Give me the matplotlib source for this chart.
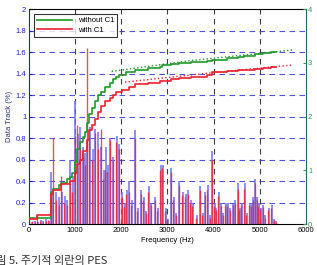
import matplotlib
matplotlib.use('Agg')
import matplotlib.pyplot as plt

plt.rcParams['font.family'] = ['Liberation Sans', 'DejaVu Sans']

# PES spectrum bars (Hz, left-axis units)
freq = [60, 120, 180, 240, 300, 360, 420, 470, 520, 580, 640, 700, 760, 820, 880, 940,
        990, 1050, 1100, 1160, 1210, 1255, 1310, 1370, 1430, 1490, 1560, 1610, 1650, 1700,
        1750, 1820, 1890, 1950, 2010, 2060, 2110, 2160, 2220, 2290, 2350, 2420, 2475, 2530,
        2580, 2640, 2730, 2780, 2840, 2890, 2950, 3000, 3070, 3130, 3180, 3245, 3325, 3385,
        3435, 3490, 3540, 3625, 3700, 3750, 3810, 3860, 3920, 3965, 4010, 4050, 4100, 4150,
        4200, 4250, 4300, 4350, 4410, 4460, 4520, 4560, 4600, 4660, 4710, 4770, 4820, 4850,
        4890, 4930, 4970, 5010, 5060, 5110, 5180, 5250, 5300, 5350]
pes_without = [0.02, 0.03, 0.02, 0.04, 0.03, 0.05, 0.03, 0.48, 0.28, 0.30, 0.25, 0.30, 0.26, 0.22, 0.60, 0.45,
               1.14, 0.84, 0.90, 0.72, 0.66, 0.78, 0.90, 0.70, 0.88, 0.86, 0.72, 0.50, 0.72, 0.55,
               0.80, 0.62, 0.82, 0.74, 0.30, 0.20, 0.32, 0.40, 0.22, 0.87, 0.15, 0.32, 0.25, 0.12,
               0.35, 0.20, 0.25, 0.15, 0.55, 0.55, 0.15, 0.05, 0.52, 0.25, 0.10, 0.40, 0.30, 0.28,
               0.32, 0.22, 0.20, 0.08, 0.35, 0.10, 0.30, 0.36, 0.08, 0.68, 0.20, 0.15, 0.30, 0.20,
               0.10, 0.20, 0.20, 0.15, 0.20, 0.22, 0.38, 0.15, 0.20, 0.38, 0.10, 0.20, 0.20, 0.25,
               0.42, 0.25, 0.20, 0.15, 0.18, 0.08, 0.15, 0.18, 0.05, 0.03]
pes_with = [0.03, 0.02, 0.08, 0.03, 0.02, 0.03, 0.04, 0.28, 0.80, 0.22, 0.18, 0.45, 0.20, 0.18, 0.38, 0.30,
            0.82, 0.92, 0.72, 0.62, 0.55, 1.64, 0.80, 0.60, 0.85, 0.70, 0.88, 0.42, 0.50, 0.48,
            0.78, 0.60, 0.76, 0.70, 0.25, 0.16, 0.28, 0.30, 0.18, 0.80, 0.12, 0.28, 0.22, 0.10,
            0.30, 0.18, 0.22, 0.12, 0.50, 0.52, 0.12, 0.04, 0.48, 0.22, 0.08, 0.36, 0.27, 0.25,
            0.28, 0.20, 0.17, 0.06, 0.32, 0.08, 0.27, 0.32, 0.06, 0.60, 0.17, 0.13, 0.26, 0.17,
            0.08, 0.18, 0.17, 0.13, 0.18, 0.20, 0.33, 0.13, 0.18, 0.33, 0.08, 0.18, 0.17, 0.22,
            0.38, 0.22, 0.17, 0.13, 0.16, 0.06, 0.13, 0.15, 0.04, 0.02]

# cumulative curves (step)
cum_f_without = [0, 470, 520, 640, 700, 820, 880, 940, 990, 1050, 1100, 1160, 1210, 1255, 1310,
                 1370, 1430, 1490, 1560, 1650, 1750, 1820, 1890, 1950, 2110, 2290, 2580, 2840,
                 2890, 3070, 3245, 3500, 3860, 3965, 4300, 4520, 4660, 4890, 5060, 5250, 5350]
cum_without = [0.06, 0.30, 0.33, 0.36, 0.38, 0.42, 0.44, 0.47, 0.58, 0.70, 0.76, 0.81, 0.86, 0.94, 1.02,
               1.08, 1.14, 1.20, 1.23, 1.27, 1.31, 1.35, 1.37, 1.39, 1.41, 1.43, 1.45, 1.46,
               1.48, 1.49, 1.50, 1.51, 1.52, 1.53, 1.54, 1.55, 1.56, 1.58, 1.59, 1.60, 1.60]
cum_f_with = [0, 180, 470, 520, 700, 880, 990, 1050, 1100, 1160, 1255, 1310, 1370, 1430, 1490,
              1560, 1650, 1750, 1820, 1890, 2010, 2160, 2290, 2580, 2840, 3070, 3245, 3500,
              3860, 3965, 4300, 4520, 4890, 5060, 5250, 5350]
cum_with = [0.05, 0.08, 0.28, 0.32, 0.37, 0.40, 0.47, 0.56, 0.60, 0.68, 0.78, 0.87, 0.92, 0.98, 1.04,
            1.10, 1.14, 1.17, 1.20, 1.23, 1.25, 1.27, 1.30, 1.31, 1.33, 1.35, 1.36, 1.37,
            1.39, 1.41, 1.42, 1.43, 1.44, 1.45, 1.46, 1.46]

# dotted trend lines
trend_f_without = [1790, 3500, 5730]
trend_without = [1.42, 1.52, 1.62]
trend_f_with = [2080, 3800, 5730]
trend_with = [1.32, 1.40, 1.48]

BLUE = '#2020c8'
GREEN = '#1f9a2a'
RED = '#ee2030'

fig = plt.figure(figsize=(3.17, 2.65), dpi=100)
ax = fig.add_axes([0.0915, 0.1547, 0.8735, 0.8113])

# grid
for y in [0.2, 0.4, 0.6, 0.8, 1.0, 1.2, 1.4, 1.6, 1.8]:
    ax.axhline(y, color='#5050e0', lw=0.8, ls=(0, (5, 4)), zorder=1)
for x in [1000, 2000, 3000, 4000, 5000]:
    ax.axvline(x, color='#404040', lw=0.8, ls=(0, (5, 4)), zorder=1)

ax.vlines([f + 10 for f in freq], 0, pes_without, color='#7070f0', lw=1.1, zorder=2)
ax.vlines(freq, 0, pes_with, color=RED, lw=1.0, alpha=0.8, zorder=3)

ax.plot(trend_f_without, trend_without, ls=':', color=GREEN, lw=1.0, zorder=4)
ax.plot(trend_f_with, trend_with, ls=':', color=RED, lw=1.0, zorder=4)
l1, = ax.plot(cum_f_without, cum_without, drawstyle='steps-post', color=GREEN, lw=1.2, zorder=5,
              label='without C1')
l2, = ax.plot(cum_f_with, cum_with, drawstyle='steps-post', color=RED, lw=1.2, zorder=5,
              label='with C1')

ax.set_xlim(0, 6000)
ax.set_ylim(0, 2)
ax.set_xticks([0, 1000, 2000, 3000, 4000, 5000, 6000])
ax.set_yticks([0, 0.2, 0.4, 0.6, 0.8, 1, 1.2, 1.4, 1.6, 1.8, 2])
ax.set_yticklabels(['0', '0.2', '0.4', '0.6', '0.8', '1', '1.2', '1.4', '1.6', '1.8', '2'])
ax.tick_params(axis='x', labelsize=5.5, direction='in', length=2, pad=2)
ax.tick_params(axis='y', labelsize=5.5, direction='in', length=2, pad=2, colors=BLUE)
ax.spines['left'].set_color(BLUE)
ax.spines['right'].set_visible(False)
for s in ax.spines.values():
    s.set_linewidth(0.8)

ax2 = ax.twinx()
ax2.set_ylim(0, 4)
ax2.set_yticks([0, 1, 2, 3, 4])
ax2.tick_params(axis='y', labelsize=5.5, direction='in', length=2, pad=1.5, colors='#3a9a5a')
ax2.spines['right'].set_color('#1a6a6a')
ax2.spines['right'].set_linewidth(0.8)
for k in ['left', 'top', 'bottom']:
    ax2.spines[k].set_visible(False)

ax.set_xlabel('Frequency (Hz)', fontsize=5.5, labelpad=2)
ax.set_ylabel('Data Track (%)', fontsize=5.5, labelpad=2, color='#303080')

leg = ax.legend(handles=[l1, l2], loc='upper left', fontsize=5.5, handlelength=4.5,
                frameon=True, fancybox=False, borderpad=0.4, labelspacing=0.3,
                bbox_to_anchor=(0.005, 0.995))
leg.get_frame().set_edgecolor('black')
leg.get_frame().set_linewidth(0.8)

# caption, cut at the page edge as in the source scan
fig.text(-0.045, -0.002, '그림 5. 주기적 외란의 PES', fontsize=8, va='bottom', ha='left',
         family=['Noto Sans CJK KR', 'DejaVu Sans'], color='#303030')

fig.savefig('out.png', dpi=100)
